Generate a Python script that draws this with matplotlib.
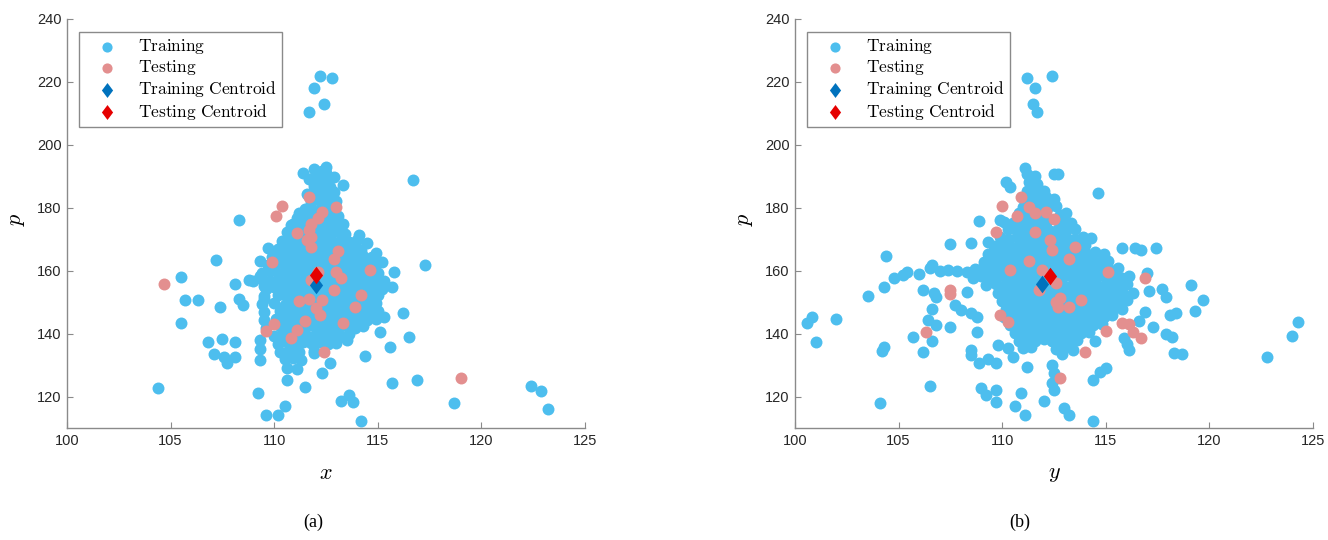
import matplotlib
matplotlib.use('Agg')
import matplotlib.pyplot as plt

plt.rcParams['mathtext.fontset'] = 'cm'
plt.rcParams['font.family'] = ['Liberation Sans', 'DejaVu Sans']

# ---- panel (a): p against x ----
train_a = [
    # scattered points
    (104.4, 122.7), (105.5, 157.9), (105.5, 143.4), (105.7, 150.8), (106.3, 150.6), (107.2, 163.5),
    (107.4, 148.5), (106.8, 137.3), (107.5, 138.3), (108.1, 137.3), (107.1, 133.6), (107.6, 132.7),
    (107.7, 130.6), (108.1, 132.7), (108.3, 176.0), (108.1, 155.9), (108.3, 151.1), (108.5, 149.0),
    (108.8, 156.9), (109.3, 163.0), (109.2, 121.1), (109.6, 114.0), (110.2, 114.2), (110.5, 117.0),
    (110.6, 125.3), (110.6, 129.0), (111.1, 128.9), (111.5, 123.0), (112.3, 127.4), (112.7, 130.6),
    (113.2, 118.6), (113.6, 120.5), (113.8, 118.2), (114.2, 112.1), (114.4, 133.0), (113.5, 138.0),
    (115.3, 145.4), (115.1, 140.4), (115.7, 154.9), (115.8, 159.7), (115.6, 135.9), (116.2, 146.5),
    (116.5, 139.0), (116.7, 188.8), (117.3, 161.7), (115.7, 124.4), (116.9, 125.3), (118.7, 118.1),
    (122.4, 123.2), (122.9, 121.8), (123.2, 116.1), (112.2, 221.8), (112.8, 221.1), (111.9, 218.1),
    (112.4, 212.9), (111.7, 210.3), (111.4, 191.1), (112.5, 193.0), (112.5, 190.9), (113.3, 187.2),
    (112.9, 185.1), (111.2, 178.2), (110.8, 174.5), (114.1, 171.3), (114.5, 168.7), (114.9, 165.5),
    (115.2, 162.9), (109.7, 167.3), (110.3, 167.3), (109.3, 158.2), (109.5, 155.0), (109.5, 151.0),
    (109.3, 138.1), (109.3, 135.0), (109.3, 131.7), (111.9, 133.8), (111.1, 137.0), (111.8, 137.2),
    # dense centre
    (111.9, 192.2), (112.3, 191.6), (111.7, 189.3), (112.1, 189.8), (112.5, 189.2), (112.9, 189.9),
    (111.9, 186.8), (112.3, 187.3), (112.7, 186.6), (111.6, 184.3), (112.0, 184.8), (112.4, 184.2),
    (112.8, 184.6), (111.8, 181.8), (112.2, 182.3), (112.6, 181.7), (113.0, 182.2), (111.5, 179.6),
    (111.9, 179.1), (112.3, 179.8), (112.7, 179.3), (111.1, 176.8), (111.5, 177.3), (111.9, 176.7),
    (112.3, 177.2), (112.7, 176.9), (113.1, 177.4), (110.9, 174.7), (111.3, 174.2), (111.7, 174.8),
    (112.1, 174.3), (112.5, 174.6), (112.9, 174.1), (113.3, 174.7), (110.6, 172.3), (111.0, 171.8),
    (111.4, 172.4), (111.8, 171.7), (112.2, 172.2), (112.6, 171.9), (113.0, 172.5), (113.4, 171.8),
    (110.4, 169.3), (110.8, 169.8), (111.2, 169.2), (111.6, 169.7), (112.0, 169.4), (112.4, 169.9),
    (112.8, 169.3), (113.2, 169.6), (113.6, 169.2), (114.0, 169.7), (110.2, 166.8), (110.6, 167.3),
    (111.0, 166.7), (111.4, 167.2), (111.8, 166.9), (112.2, 167.4), (112.6, 166.6), (113.0, 167.1),
    (113.4, 166.8), (113.8, 167.3), (114.2, 166.7), (109.9, 164.3), (110.3, 164.8), (110.7, 164.2),
    (111.1, 164.7), (111.5, 164.4), (111.9, 164.9), (112.3, 164.3), (112.7, 164.6), (113.1, 164.2),
    (113.5, 164.8), (113.9, 164.4), (114.3, 164.7), (114.7, 164.3), (109.7, 161.8), (110.1, 162.3),
    (110.5, 161.7), (110.9, 162.2), (111.3, 161.9), (111.7, 162.4), (112.1, 161.8), (112.5, 162.1),
    (112.9, 161.7), (113.3, 162.3), (113.7, 161.9), (114.1, 162.4), (114.5, 161.8), (114.9, 162.2),
    (109.4, 159.3), (109.8, 159.8), (110.2, 159.2), (110.6, 159.7), (111.0, 159.4), (111.4, 159.9),
    (111.8, 159.3), (112.2, 159.6), (112.6, 159.2), (113.0, 159.8), (113.4, 159.4), (113.8, 159.7),
    (114.2, 159.2), (114.6, 159.6), (115.0, 159.3), (109.0, 156.8), (109.4, 157.3), (109.8, 156.7),
    (110.2, 157.2), (110.6, 156.9), (111.0, 157.4), (111.4, 156.8), (111.8, 157.1), (112.2, 156.7),
    (112.6, 157.3), (113.0, 156.9), (113.4, 157.2), (113.8, 156.8), (114.2, 157.3), (114.6, 156.7),
    (115.0, 157.1), (115.3, 156.6), (109.6, 154.3), (110.0, 154.8), (110.4, 154.2), (110.8, 154.7),
    (111.2, 154.4), (111.6, 154.9), (112.0, 154.3), (112.4, 154.6), (112.8, 154.2), (113.2, 154.8),
    (113.6, 154.4), (114.0, 154.7), (114.4, 154.3), (114.8, 154.6), (115.2, 154.2), (109.5, 151.8),
    (110.2, 152.3), (110.6, 151.7), (111.0, 152.2), (111.4, 151.9), (111.8, 152.4), (112.2, 151.8),
    (112.6, 152.1), (113.0, 151.7), (113.4, 152.3), (113.8, 151.9), (114.2, 152.4), (114.6, 151.8),
    (115.0, 152.2), (109.4, 149.3), (110.0, 149.8), (110.5, 149.2), (110.9, 149.7), (111.3, 149.4),
    (111.7, 149.9), (112.1, 149.3), (112.5, 149.6), (112.9, 149.2), (113.3, 149.8), (113.7, 149.4),
    (114.1, 149.7), (114.5, 149.3), (114.9, 149.6), (109.5, 146.8), (110.3, 147.3), (110.7, 146.7),
    (111.1, 147.2), (111.5, 146.9), (111.9, 147.4), (112.3, 146.8), (112.7, 147.1), (113.1, 146.7),
    (113.5, 147.3), (113.9, 146.9), (114.3, 147.2), (114.7, 146.8), (115.0, 147.3), (109.5, 144.3),
    (110.1, 144.8), (110.5, 144.2), (110.9, 144.7), (111.3, 144.4), (111.7, 144.9), (112.1, 144.3),
    (112.5, 144.6), (112.9, 144.2), (113.3, 144.8), (113.7, 144.4), (114.1, 144.7), (114.5, 144.3),
    (114.9, 144.6), (109.6, 141.8), (110.3, 142.3), (110.7, 141.7), (111.1, 142.2), (111.5, 141.9),
    (111.9, 142.4), (112.3, 141.8), (112.7, 142.1), (113.1, 141.7), (113.5, 142.3), (113.9, 141.9),
    (114.3, 142.4), (110.0, 139.3), (110.4, 139.8), (110.8, 139.2), (111.2, 139.7), (111.6, 139.4),
    (112.0, 139.9), (112.4, 139.3), (112.8, 139.6), (113.2, 139.2), (113.6, 139.8), (110.2, 136.8),
    (110.6, 137.3), (111.0, 136.7), (111.4, 137.2), (111.8, 136.9), (112.2, 137.4), (112.6, 136.8),
    (113.0, 137.1), (110.3, 134.3), (110.7, 134.8), (111.2, 134.2), (111.9, 134.6), (110.5, 131.8),
    (110.9, 132.3), (111.3, 131.7),
]
test_a = [
    (104.7, 155.9), (110.4, 180.6), (110.1, 177.5), (111.7, 183.5), (113.0, 180.1), (112.3, 178.7),
    (112.1, 176.6), (111.8, 175.0), (111.7, 172.9), (111.8, 170.8), (111.6, 169.7), (111.8, 167.6),
    (111.1, 172.1), (113.1, 166.3), (112.9, 163.7), (113.0, 159.5), (113.2, 157.6), (114.6, 160.2),
    (112.1, 159.7), (109.9, 162.9), (111.8, 157.2), (112.9, 153.9), (114.2, 152.3), (111.2, 150.3),
    (111.7, 151.1), (112.3, 150.8), (112.0, 148.1), (112.2, 146.0), (113.9, 148.5), (111.5, 143.9),
    (113.3, 143.4), (110.0, 143.2), (109.6, 140.9), (111.1, 141.2), (110.8, 138.6), (112.4, 134.0),
    (119.0, 125.8),
]
centroid_train_a = (112.0, 155.5)
centroid_test_a = (112.0, 158.5)

# ---- panel (b): p against y ----
train_b = [
    # scattered points
    (100.6, 143.3), (100.8, 145.4), (101.0, 137.3), (102.0, 144.6), (103.5, 151.9), (104.1, 118.1),
    (104.2, 134.5), (104.3, 135.7), (104.3, 154.7), (104.4, 164.7), (104.8, 157.6), (105.2, 158.6),
    (105.4, 159.5), (105.7, 139.0), (106.0, 159.0), (106.2, 153.8), (106.2, 134.2), (106.5, 123.3),
    (106.6, 137.8), (106.4, 144.3), (106.6, 147.7), (106.8, 151.7), (106.8, 142.8), (106.6, 161.7),
    (106.5, 160.8), (107.0, 160.0), (107.4, 160.2), (107.8, 159.9), (108.3, 159.5), (108.7, 160.5),
    (109.2, 161.1), (106.7, 152.8), (107.5, 168.6), (107.5, 142.0), (107.7, 149.1), (108.0, 147.5),
    (108.5, 146.5), (108.8, 145.4), (108.3, 153.1), (108.5, 168.7), (108.9, 175.9), (108.5, 134.8),
    (108.5, 133.2), (108.8, 140.4), (108.9, 130.6), (109.3, 131.9), (109.7, 130.6), (109.0, 122.7),
    (109.2, 120.5), (109.7, 122.1), (109.7, 118.4), (109.8, 136.4), (110.3, 135.4), (110.5, 132.7),
    (110.6, 117.0), (110.9, 121.1), (111.1, 114.2), (111.2, 129.3), (112.0, 118.7), (112.4, 124.3),
    (112.5, 122.1), (112.4, 130.1), (112.5, 127.5), (113.0, 116.3), (113.2, 114.2), (112.9, 133.5),
    (113.4, 134.9), (113.6, 138.1), (114.4, 112.3), (114.4, 125.3), (114.7, 127.8), (115.0, 129.0),
    (114.5, 137.5), (114.2, 140.4), (115.9, 138.5), (116.1, 134.8), (116.0, 136.6), (116.3, 153.0),
    (116.6, 143.9), (116.9, 147.0), (117.3, 142.2), (117.1, 153.7), (117.0, 159.2), (117.7, 154.2),
    (117.9, 151.7), (117.9, 139.8), (118.2, 138.9), (118.3, 133.8), (118.7, 133.6), (118.1, 145.9),
    (118.4, 146.4), (119.1, 155.3), (119.3, 147.1), (119.7, 150.6), (122.8, 132.7), (124.0, 139.1),
    (124.3, 143.6), (115.8, 167.3), (116.4, 167.3), (116.7, 166.6), (117.4, 167.3), (114.3, 170.3),
    (114.6, 184.8), (111.2, 221.3), (112.4, 221.8), (111.6, 218.1), (111.5, 213.1), (111.7, 210.5),
    (111.1, 192.5), (111.4, 189.8), (112.5, 190.7), (112.7, 190.7), (110.2, 188.3), (110.4, 186.7),
    (109.9, 176.1), (110.1, 175.6), (109.3, 169.0),
    # dense centre
    (111.2, 190.8), (111.6, 190.2), (111.3, 188.2), (111.7, 187.7), (111.2, 185.3), (111.6, 185.8),
    (112.0, 185.2), (111.3, 183.2), (111.7, 182.7), (112.1, 183.3), (112.5, 182.8), (111.0, 180.3),
    (111.8, 180.8), (112.2, 180.2), (112.6, 180.7), (110.8, 178.2), (111.2, 177.7), (112.0, 178.3),
    (112.8, 177.8), (113.1, 178.3), (110.5, 175.3), (110.9, 175.8), (111.3, 175.2), (111.7, 175.7),
    (112.1, 175.3), (112.9, 175.8), (113.3, 175.2), (110.3, 173.2), (110.7, 172.7), (111.1, 173.3),
    (111.5, 172.8), (111.9, 173.2), (112.3, 172.7), (112.7, 173.3), (113.1, 172.8), (113.5, 173.2),
    (109.9, 170.7), (110.3, 170.2), (110.7, 170.8), (111.1, 170.3), (111.5, 170.7), (111.9, 170.2),
    (112.3, 170.8), (112.7, 170.3), (113.1, 170.7), (113.5, 170.2), (113.9, 170.6), (109.6, 167.8),
    (110.0, 168.3), (110.4, 167.7), (110.8, 168.2), (111.2, 167.8), (111.6, 168.3), (112.0, 167.7),
    (112.4, 168.2), (112.8, 167.8), (113.2, 168.3), (113.6, 167.7), (114.0, 168.2), (109.3, 165.3),
    (109.7, 165.8), (110.1, 165.2), (110.5, 165.7), (110.9, 165.3), (111.3, 165.8), (111.7, 165.2),
    (112.1, 165.7), (112.5, 165.3), (112.9, 165.8), (113.3, 165.2), (113.7, 165.7), (114.1, 165.3),
    (114.5, 165.8), (114.9, 165.2), (109.1, 162.8), (109.5, 163.3), (109.9, 162.7), (110.3, 163.2),
    (110.7, 162.8), (111.1, 163.3), (111.5, 162.7), (111.9, 163.2), (112.3, 162.8), (112.7, 163.3),
    (113.1, 162.7), (113.5, 163.2), (113.9, 162.8), (114.3, 163.3), (114.7, 162.7), (115.1, 163.2),
    (108.8, 160.3), (109.2, 160.8), (109.6, 160.2), (110.0, 160.7), (110.4, 160.3), (110.8, 160.8),
    (111.2, 160.2), (111.6, 160.7), (112.0, 160.3), (112.4, 160.8), (112.8, 160.2), (113.2, 160.7),
    (113.6, 160.3), (114.0, 160.8), (114.4, 160.2), (114.8, 160.7), (115.2, 160.3), (115.6, 160.8),
    (108.6, 157.8), (109.0, 158.3), (109.4, 157.7), (109.8, 158.2), (110.2, 157.8), (110.6, 158.3),
    (111.0, 157.7), (111.4, 158.2), (111.8, 157.8), (112.2, 158.3), (112.6, 157.7), (113.0, 158.2),
    (113.4, 157.8), (113.8, 158.3), (114.2, 157.7), (114.6, 158.2), (115.0, 157.8), (115.4, 158.3),
    (115.8, 157.7), (116.1, 158.2), (109.2, 155.3), (109.7, 155.8), (110.1, 155.2), (110.5, 155.7),
    (110.9, 155.3), (111.3, 155.8), (111.7, 155.2), (112.1, 155.7), (112.5, 155.3), (112.9, 155.8),
    (113.3, 155.2), (113.7, 155.7), (114.1, 155.3), (114.5, 155.8), (114.9, 155.2), (115.3, 155.7),
    (115.7, 155.3), (116.0, 155.8), (109.8, 152.8), (110.2, 153.3), (110.6, 152.7), (111.0, 153.2),
    (111.4, 152.8), (111.8, 153.3), (112.2, 152.7), (112.6, 153.2), (113.0, 152.8), (113.4, 153.3),
    (113.8, 152.7), (114.2, 153.2), (114.6, 152.8), (115.0, 153.3), (115.4, 152.7), (115.8, 153.2),
    (110.0, 150.3), (110.4, 150.8), (110.8, 150.2), (111.2, 150.7), (111.6, 150.3), (112.0, 150.8),
    (112.4, 150.2), (112.8, 150.7), (113.2, 150.3), (113.6, 150.8), (114.0, 150.2), (114.4, 150.7),
    (114.8, 150.3), (115.2, 150.8), (115.6, 150.2), (116.0, 150.7), (110.2, 147.8), (110.6, 148.3),
    (111.0, 147.7), (111.4, 148.2), (111.8, 147.8), (112.2, 148.3), (112.6, 147.7), (113.0, 148.2),
    (113.4, 147.8), (113.8, 148.3), (114.2, 147.7), (114.6, 148.2), (115.0, 147.8), (115.4, 148.3),
    (115.8, 147.7), (110.1, 145.3), (110.5, 145.8), (110.9, 145.2), (111.3, 145.7), (111.7, 145.3),
    (112.1, 145.8), (112.5, 145.2), (112.9, 145.7), (113.3, 145.3), (113.7, 145.8), (114.1, 145.2),
    (114.5, 145.7), (114.9, 145.3), (115.3, 145.8), (110.4, 142.8), (110.8, 143.3), (111.2, 142.7),
    (111.6, 143.2), (112.0, 142.8), (112.4, 143.3), (112.8, 142.7), (113.2, 143.2), (113.6, 142.8),
    (114.0, 143.3), (114.4, 142.7), (114.8, 143.2), (110.6, 140.3), (111.0, 140.8), (111.4, 140.2),
    (111.8, 140.7), (112.2, 140.3), (112.6, 140.8), (113.0, 140.2), (113.4, 140.7), (113.8, 140.3),
    (110.8, 137.8), (111.2, 138.3), (111.6, 137.7), (112.0, 138.2), (112.4, 137.8), (112.8, 138.3),
    (113.2, 137.7), (111.0, 135.3), (111.4, 135.8), (112.6, 135.2), (113.0, 135.7),
]
test_b = [
    (106.3, 140.5), (107.5, 153.8), (107.5, 152.7), (109.7, 172.2), (110.0, 180.6), (110.9, 183.5),
    (110.7, 177.3), (111.3, 180.3), (111.6, 178.2), (112.1, 178.6), (112.5, 176.4), (111.6, 172.4),
    (112.3, 169.8), (112.4, 166.5), (113.5, 167.6), (113.2, 163.6), (111.3, 163.0), (110.4, 160.1),
    (111.9, 160.2), (115.1, 159.5), (116.9, 157.8), (111.8, 153.9), (112.6, 156.0), (113.8, 150.7),
    (112.6, 150.2), (112.8, 151.2), (112.7, 148.6), (113.2, 148.6), (109.9, 145.9), (110.3, 143.8),
    (115.8, 143.3), (116.1, 142.9), (116.3, 140.6), (116.7, 138.7), (115.0, 140.8), (114.0, 134.1),
    (112.8, 125.8),
]
centroid_train_b = (111.9, 155.8)
centroid_test_b = (112.3, 158.3)

c_train = '#4DBEEE'
c_test = '#E38F8F'
c_train_cen = '#0072BD'
c_test_cen = '#E50000'
diamond = [(0, 1), (0.75, 0), (0, -1), (-0.75, 0)]

fig = plt.figure(figsize=(13.28, 5.40), dpi=100)
ax1 = fig.add_axes([67 / 1328, 112 / 540, 518 / 1328, 409 / 540])
ax2 = fig.add_axes([795 / 1328, 112 / 540, 518 / 1328, 409 / 540])

panels = [
    (ax1, train_a, test_a, centroid_train_a, centroid_test_a, r'$x$', '(a)'),
    (ax2, train_b, test_b, centroid_train_b, centroid_test_b, r'$y$', '(b)'),
]

for ax, tr, te, ctr, cte, xl, tag in panels:
    ax.scatter([p[0] for p in tr], [p[1] for p in tr], s=74, color=c_train,
               linewidths=0, label=r'$\mathrm{Training}$', zorder=2)
    ax.scatter([p[0] for p in te], [p[1] for p in te], s=74, color=c_test,
               linewidths=0, label=r'$\mathrm{Testing}$', zorder=3)
    ax.scatter([ctr[0]], [ctr[1]], s=160, marker=diamond, color=c_train_cen,
               linewidths=0, label=r'$\mathrm{Training\ Centroid}$', zorder=4)
    ax.scatter([cte[0]], [cte[1]], s=160, marker=diamond, color=c_test_cen,
               linewidths=0, label=r'$\mathrm{Testing\ Centroid}$', zorder=5)

    ax.set_xlim(100, 125)
    ax.set_ylim(110, 240)
    ax.set_xticks(range(100, 126, 5))
    ax.set_yticks(range(120, 241, 20))
    for side in ['top', 'right']:
        ax.spines[side].set_visible(False)
    for side in ['left', 'bottom']:
        ax.spines[side].set_color('#8a8a8a')
        ax.spines[side].set_linewidth(1.0)
    ax.tick_params(direction='in', length=4, width=0.8, color='#8a8a8a',
                   labelcolor='#262626', labelsize=10.5, pad=4)

    ax.set_xlabel(xl, fontsize=16)
    ax.xaxis.set_label_coords(0.5, -0.085)
    ax.set_ylabel(r'$p$', fontsize=16, rotation=90)
    ax.yaxis.set_label_coords(-0.078, 0.51)

    leg = ax.legend(loc='upper left', bbox_to_anchor=(0.023, 0.968), borderaxespad=0,
                    fancybox=False, framealpha=1, edgecolor='#8a8a8a', fontsize=12.5,
                    handletextpad=0.5, labelspacing=0.12, borderpad=0.3,
                    handlelength=2.6, markerscale=0.85)
    leg.get_frame().set_linewidth(1.0)

fig.text(313 / 1328, 1 - 522 / 540, '(a)', ha='center', va='center', fontsize=13,
         family='Liberation Serif')
fig.text(1020 / 1328, 1 - 522 / 540, '(b)', ha='center', va='center', fontsize=13,
         family='Liberation Serif')

fig.savefig('out.png', dpi=100)
